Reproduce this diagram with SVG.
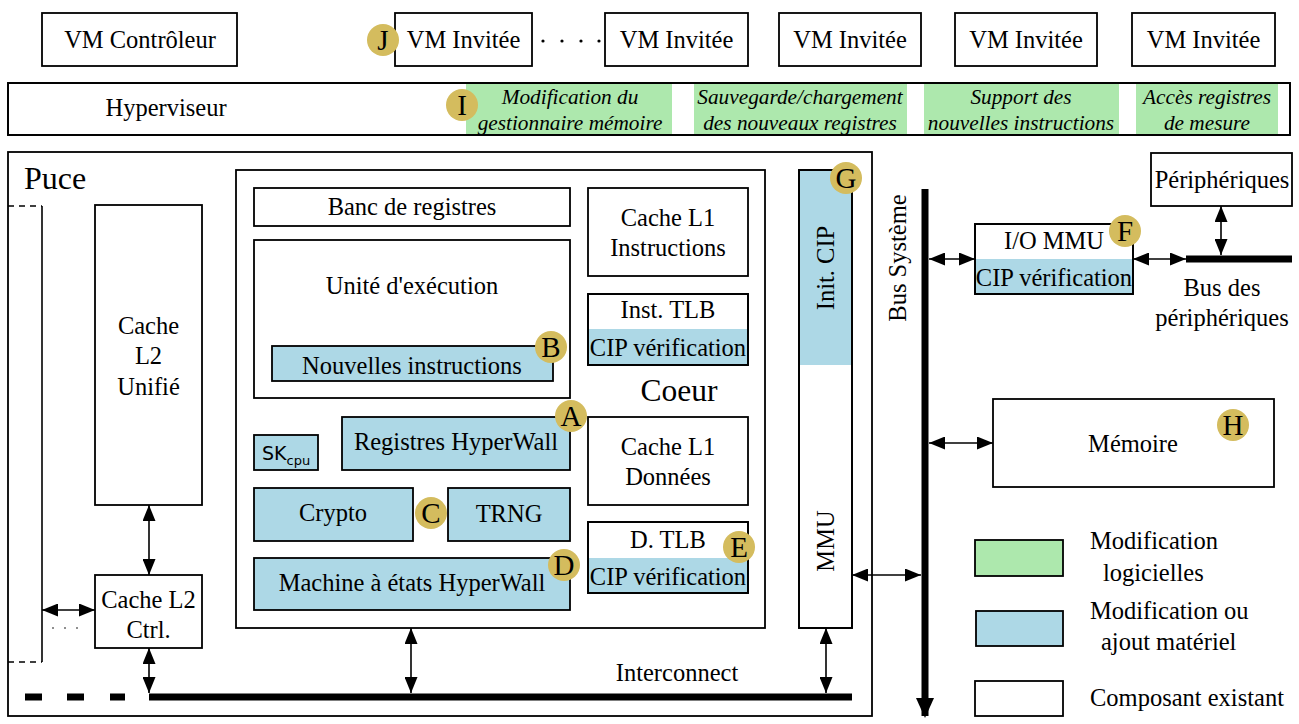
<svg xmlns="http://www.w3.org/2000/svg" width="1299" height="724" viewBox="0 0 1299 724">
<defs>
<style>
text{font-family:"Liberation Serif","Times New Roman",serif;font-size:24.5px;fill:#000}
.c{text-anchor:middle}
.it{font-style:italic;font-size:21.3px;text-anchor:middle}
.big{font-size:31.5px}
.box{fill:#fff;stroke:#000;stroke-width:1.8}
.hw{fill:#add8e6;stroke:#000;stroke-width:1.8}
.hwf{fill:#add8e6;stroke:none}
.sw{fill:#ade8ad;stroke:none}
.ol{fill:none;stroke:#000;stroke-width:1.8}
.badge{fill:#d4bc5e}
.bl{font-size:29px;text-anchor:middle}
.ar{stroke:#000;stroke-width:1.6;fill:none;marker-start:url(#ah);marker-end:url(#ah)}
.bus{stroke:#000;stroke-width:7;fill:none}
</style>
<marker id="ah" viewBox="0 0 16 13" refX="16" refY="6.5" markerWidth="16" markerHeight="13" markerUnits="userSpaceOnUse" orient="auto-start-reverse">
<path d="M0,0 L16,6.5 L0,13 z" fill="#000"/>
</marker>
<marker id="bigah" viewBox="0 0 20 18" refX="18" refY="9" markerWidth="20" markerHeight="18" markerUnits="userSpaceOnUse" orient="auto">
<path d="M0,0 L20,9 L0,18 z" fill="#000"/>
</marker>
</defs>

<!-- Top row: VMs -->
<g id="vm-controleur"><rect class="box" x="42" y="13" width="195" height="53"/><text class="c" x="140" y="48">VM Contrôleur</text></g>
<g id="vm-invitee-1"><rect class="box" x="395" y="13" width="137" height="53"/><text class="c" x="463.5" y="48">VM Invitée</text></g>
<g id="vm-dots"><circle cx="543" cy="41" r="1.6"/><circle cx="562" cy="41" r="1.6"/><circle cx="581" cy="41" r="1.6"/><circle cx="599" cy="41" r="1.6"/></g>
<g id="vm-invitee-2"><rect class="box" x="605" y="13" width="143" height="53"/><text class="c" x="676.5" y="48">VM Invitée</text></g>
<g id="vm-invitee-3"><rect class="box" x="779" y="13" width="142" height="53"/><text class="c" x="850" y="48">VM Invitée</text></g>
<g id="vm-invitee-4"><rect class="box" x="955" y="13" width="142" height="53"/><text class="c" x="1026" y="48">VM Invitée</text></g>
<g id="vm-invitee-5"><rect class="box" x="1132" y="13" width="143" height="53"/><text class="c" x="1203.5" y="48">VM Invitée</text></g>
<g id="badge-J"><circle class="badge" cx="383" cy="40" r="16"/><text class="bl" x="383" y="50">J</text></g>

<!-- Hypervisor -->
<g id="hyperviseur">
<rect class="box" x="8" y="83" width="1282" height="52"/>
<rect class="sw" x="466" y="84" width="206" height="50"/>
<rect class="sw" x="694" y="84" width="213" height="50"/>
<rect class="sw" x="924" y="84" width="195" height="50"/>
<rect class="sw" x="1136" y="84" width="142" height="50"/>
<rect class="ol" x="8" y="83" width="1282" height="52"/>
<text class="c" x="166" y="116">Hyperviseur</text>
<text class="it" x="570" y="104">Modification du</text>
<text class="it" x="570" y="130">gestionnaire mémoire</text>
<text class="it" x="800" y="104">Sauvegarde/chargement</text>
<text class="it" x="800" y="130">des nouveaux registres</text>
<text class="it" x="1021" y="104">Support des</text>
<text class="it" x="1021" y="130">nouvelles instructions</text>
<text class="it" x="1207" y="104">Accès registres</text>
<text class="it" x="1207" y="130">de mesure</text>
</g>
<g id="badge-I"><circle class="badge" cx="462" cy="105" r="16"/><text class="bl" x="462" y="115">I</text></g>

<!-- Chip -->
<g id="puce">
<rect class="box" x="8" y="152" width="864" height="564"/>
<text style="font-size:32px" x="24" y="189">Puce</text>
</g>
<g id="autre-coeur">
<path d="M8,206 H42 M8,662 H42" stroke="#000" stroke-width="1.6" stroke-dasharray="6,5" fill="none"/>
<path d="M42,206 V662" stroke="#000" stroke-width="1.6" fill="none"/>
<circle cx="53" cy="628" r="0.8"/><circle cx="65" cy="628" r="0.8"/><circle cx="77" cy="628" r="0.8"/>
</g>
<g id="cache-l2"><rect class="box" x="95" y="205" width="107" height="300"/>
<text class="c" x="148.5" y="334">Cache</text><text class="c" x="148.5" y="364">L2</text><text class="c" x="148.5" y="395">Unifié</text></g>
<g id="cache-l2-ctrl"><rect class="box" x="95" y="575" width="107" height="73"/>
<text class="c" x="148.5" y="608">Cache L2</text><text class="c" x="148.5" y="638">Ctrl.</text></g>

<!-- Core -->
<g id="coeur"><rect class="box" x="236" y="170" width="529" height="458"/><text class="big c" x="679" y="401">Coeur</text></g>
<g id="banc-registres"><rect class="box" x="254" y="188" width="316" height="38"/><text class="c" x="412" y="215">Banc de registres</text></g>
<g id="cache-l1-i"><rect class="box" x="588" y="188" width="160" height="88"/><text class="c" x="668" y="226">Cache L1</text><text class="c" x="668" y="256">Instructions</text></g>
<g id="unite-execution"><rect class="box" x="254" y="240" width="316" height="158"/><text class="c" x="412" y="294">Unité d'exécution</text></g>
<g id="nouvelles-instructions"><rect class="hw" x="272" y="346" width="281" height="35"/><text class="c" x="412" y="374">Nouvelles instructions</text></g>
<g id="badge-B"><circle class="badge" cx="551" cy="347" r="16"/><text class="bl" x="551" y="357">B</text></g>
<g id="inst-tlb"><rect class="box" x="588" y="294" width="160" height="71"/><rect class="hwf" x="589" y="329" width="158" height="35"/><rect class="ol" x="588" y="294" width="160" height="71"/>
<text class="c" x="668" y="318">Inst. TLB</text><text class="c" x="668" y="356">CIP vérification</text></g>
<g id="sk-cpu"><rect class="hw" x="254" y="435" width="64" height="35"/>
<text x="262" y="460" style="font-family:'DejaVu Sans','Liberation Sans',sans-serif;font-size:19px">SK<tspan dy="5" style="font-size:13px">cpu</tspan></text></g>
<g id="registres-hyperwall"><rect class="hw" x="342" y="417" width="228" height="53"/><text class="c" x="456" y="450">Registres HyperWall</text></g>
<g id="badge-A"><circle class="badge" cx="571" cy="416" r="16"/><text class="bl" x="571" y="426">A</text></g>
<g id="cache-l1-d"><rect class="box" x="588" y="417" width="160" height="88"/><text class="c" x="668" y="455">Cache L1</text><text class="c" x="668" y="485">Données</text></g>
<g id="crypto"><rect class="hw" x="254" y="488" width="159" height="53"/><text class="c" x="333" y="521">Crypto</text></g>
<g id="trng"><rect class="hw" x="448" y="488" width="122" height="53"/><text class="c" x="509" y="522">TRNG</text></g>
<g id="badge-C"><circle class="badge" cx="431" cy="513" r="16"/><text class="bl" x="431" y="523">C</text></g>
<g id="d-tlb"><rect class="box" x="588" y="522" width="160" height="71"/><rect class="hwf" x="589" y="558" width="158" height="34"/><rect class="ol" x="588" y="522" width="160" height="71"/>
<text class="c" x="668" y="548">D. TLB</text><text class="c" x="668" y="585">CIP vérification</text></g>
<g id="badge-E"><circle class="badge" cx="739" cy="547" r="16"/><text class="bl" x="739" y="557">E</text></g>
<g id="machine-etats"><rect class="hw" x="254" y="558" width="316" height="52"/><text class="c" x="412" y="591">Machine à états HyperWall</text></g>
<g id="badge-D"><circle class="badge" cx="564" cy="565" r="16"/><text class="bl" x="564" y="575">D</text></g>

<!-- MMU column -->
<g id="mmu"><rect class="box" x="799" y="170" width="53" height="458"/><rect class="hwf" x="800" y="171" width="51" height="194"/><rect class="ol" x="799" y="170" width="53" height="458"/>
<text class="c" transform="translate(826,268) rotate(-90)" x="0" y="8">Init. CIP</text>
<text class="c" transform="translate(826,541) rotate(-90)" x="0" y="8">MMU</text></g>
<g id="badge-G"><circle class="badge" cx="846" cy="178" r="16"/><text class="bl" x="846" y="188">G</text></g>

<!-- Interconnect label -->
<g id="interconnect-label"><text class="c" x="677" y="681">Interconnect</text></g>

<!-- System side -->
<g id="bus-systeme-label"><text class="c" transform="translate(898,258) rotate(-90)" x="0" y="8">Bus Système</text></g>
<g id="io-mmu"><rect class="box" x="975" y="224" width="158" height="70"/><rect class="hwf" x="976" y="259" width="156" height="34"/><rect class="ol" x="975" y="224" width="158" height="70"/>
<text class="c" x="1054" y="249">I/O MMU</text><text class="c" x="1054" y="286">CIP vérification</text></g>
<g id="badge-F"><circle class="badge" cx="1125" cy="231" r="16"/><text class="bl" x="1125" y="241">F</text></g>
<g id="peripheriques"><rect class="box" x="1151" y="153" width="141" height="53"/><text class="c" x="1222" y="188">Périphériques</text></g>
<g id="bus-peripheriques-label"><text class="c" x="1222" y="296">Bus des</text><text class="c" x="1222" y="326">périphériques</text></g>
<g id="memoire"><rect class="box" x="993" y="399" width="281" height="88"/><text class="c" x="1133" y="452">Mémoire</text></g>
<g id="badge-H"><circle class="badge" cx="1233" cy="425" r="16"/><text class="bl" x="1233" y="435">H</text></g>

<!-- Legend -->
<g id="legende-logiciel"><rect x="975" y="540" width="88" height="36" fill="#ade8ad" stroke="#000" stroke-width="1.8"/>
<text x="1090" y="549">Modification</text><text x="1103" y="581">logicielles</text></g>
<g id="legende-materiel"><rect class="hw" x="976" y="611" width="87" height="35"/>
<text x="1090" y="619">Modification ou</text><text x="1101" y="650">ajout matériel</text></g>
<g id="legende-existant"><rect class="box" x="975" y="681" width="88" height="35"/>
<text x="1090" y="706">Composant existant</text></g>

<!-- Connectors -->
<g id="connectors">
<path class="bus" d="M149,697 H852"/>
<path d="M25,697 H42 M67,697 H84 M110,697 H125" stroke="#000" stroke-width="7" fill="none"/>
<path d="M925,189 V716" stroke="#000" stroke-width="7" fill="none" marker-end="url(#bigah)"/>
<path class="bus" d="M1186,259 H1292"/>
<path class="ar" d="M149,505 V575"/>
<path class="ar" d="M42,610 H95"/>
<path class="ar" d="M149,648 V693"/>
<path class="ar" d="M411,628 V693"/>
<path class="ar" d="M826,628 V693"/>
<path class="ar" d="M852,575 H921"/>
<path class="ar" d="M929,259 H975"/>
<path class="ar" d="M1133,259 H1186"/>
<path class="ar" d="M1221,206 V255"/>
<path class="ar" d="M929,443 H993"/>
</g>
</svg>
